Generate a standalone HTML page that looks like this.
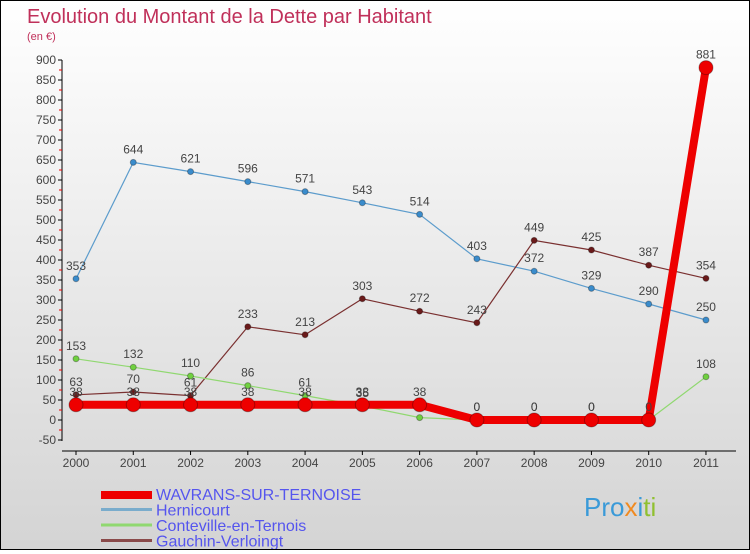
<!DOCTYPE html>
<html><head><meta charset="utf-8"><style>
body{margin:0}
#c{width:748px;height:548px;border:1px solid #000;background:linear-gradient(#fff,#d4d4d4);position:relative;font-family:"Liberation Sans",sans-serif}
svg text{font-family:"Liberation Sans",sans-serif}
</style></head><body>
<div id="c">
<svg id="s" width="748" height="548">
<text x="26" y="22" font-size="20" fill="#c0305a">Evolution du Montant de la Dette par Habitant</text>
<text x="26" y="39" font-size="11" fill="#c0305a">(en €)</text>
</svg></div>
<script>
const years=["2000","2001","2002","2003","2004","2005","2006","2007","2008","2009","2010","2011"];
const wavrans=[38,38,38,38,38,38,38,0,0,0,0,881];
const hernicourt=[353,644,621,596,571,543,514,403,372,329,290,250];
const conteville=[153,132,110,86,61,35,6,0,0,0,0,108];
const gauchin=[63,70,61,233,213,303,272,243,449,425,387,354];
const yTicks=[-50,0,50,100,150,200,250,300,350,400,450,500,550,600,650,700,750,800,850,900];
const s=document.getElementById('s'),NS='http://www.w3.org/2000/svg';
const X=i=>75+i*57.27, Y=v=>419-v*0.4;
function el(t,a,p){const e=document.createElementNS(NS,t);for(const k in a)e.setAttribute(k,a[k]);(p||s).appendChild(e);return e;}
let e=el('line',{x1:61,y1:59,x2:61,y2:440,stroke:'#000'});


yTicks.forEach(v=>{el('line',{x1:57,x2:61,y1:Y(v),y2:Y(v),stroke:'#000'});
 if(v<900)el('line',{x1:58,x2:61,y1:Y(v+25),y2:Y(v+25),stroke:'#e00'});
 const t=el('text',{x:55,y:Y(v)+4,'font-size':12,fill:'#444','text-anchor':'end'});t.textContent=v;
 
 });
e=el('line',{x1:61,y1:450,x2:735,y2:450,stroke:'#000'});


years.forEach((y,i)=>{el('line',{x1:X(i),x2:X(i),y1:450,y2:454,stroke:'#000'});
 const t=el('text',{x:X(i),y:466,'font-size':12,fill:'#444','text-anchor':'middle'});t.textContent=y;
 
 });
function series(d,name,col,w,r,fill,labels){
 const g=el('g',{});
 
 
 el('polyline',{points:d.map((v,i)=>X(i)+','+Y(v)).join(' '),fill:'none',stroke:col,'stroke-width':w},g);
 d.forEach((v,i)=>{const c=el('circle',{cx:X(i),cy:Y(v),r:r,fill:fill,stroke:'rgba(0,0,0,0.3)'},g);
  
  
  if(labels){const t=el('text',{x:X(i),y:Y(v)-9,'font-size':12,fill:'#444','text-anchor':'middle'},g);t.textContent=v;}});
}
series(hernicourt,'series-hernicourt','#5c9ccc',1.2,3,'#3a8ccc',true);
series(gauchin,'series-gauchin','#7a3030',1.2,3,'#6a1a1a',true);
series(conteville,'series-conteville','#90d870',1.2,3,'#70d040',true);
series(wavrans,'series-wavrans','#ee0000',8,7,'#ee0000',true);
const leg=[['WAVRANS-SUR-TERNOISE','#ee0000',8],['Hernicourt','#7aaccc',3],['Conteville-en-Ternois','#90d870',3],['Gauchin-Verloingt','#8a4a4a',3]];
leg.forEach((l,i)=>{const y=492+i*15.5;
 const g=el('g',{});
 
 
 el('line',{x1:100,x2:151,y1:y+1+(i==0?1:0),y2:y+1+(i==0?1:0),stroke:l[1],'stroke-width':l[2]},g);
 const t=el('text',{x:155,y:y+7,'font-size':16,fill:'#5555ee'},g);t.textContent=l[0];});
const p=el('text',{x:583,y:515,'font-size':26,fill:'#3a9ad8'});
p.innerHTML='Pro<tspan fill="#f08a20">x</tspan>i<tspan fill="#90c030">ti</tspan>';


</script></body></html>
